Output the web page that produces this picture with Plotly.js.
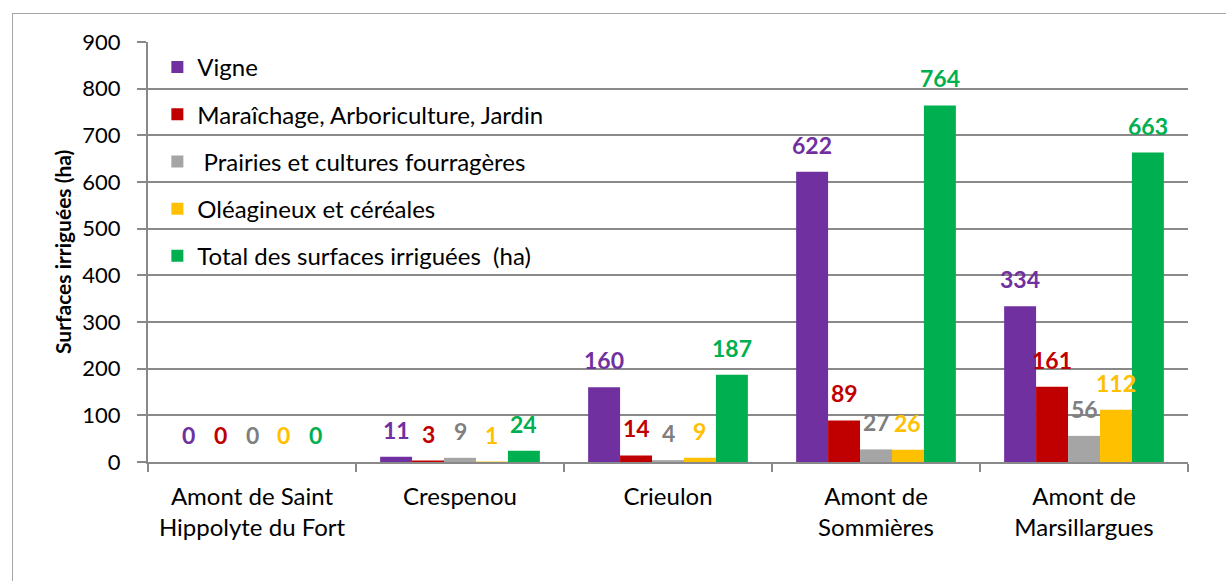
<!DOCTYPE html>
<html><head><meta charset="utf-8">
<script src="https://cdn.plot.ly/plotly-3.0.1.min.js"></script>
<style>
html,body{margin:0;padding:0;background:#fff;overflow:hidden;}
#chart{position:absolute;left:0;top:0;width:1226px;height:581px;}
#frame{position:absolute;left:12px;top:13px;width:1400px;height:800px;border:1.5px solid #a6a6a6;box-sizing:border-box;pointer-events:none;}
</style></head><body>
<div id="chart"></div>
<div id="frame"></div>
<script>
const categories = ["Amont de Saint<br>Hippolyte du Fort", "Crespenou", "Crieulon", "Amont de<br>Sommières", "Amont de<br>Marsillargues"];
const seriesNames = ["Vigne", "Maraîchage, Arboriculture, Jardin", " Prairies et cultures fourragères", "Oléagineux et céréales", "Total des surfaces irriguées  (ha)"];
const vigne = [0, 11, 160, 622, 334];
const maraichage = [0, 3, 14, 89, 161];
const prairies = [0, 9, 4, 27, 56];
const oleagineux = [0, 1, 9, 26, 112];
const total = [0, 24, 187, 764, 663];
const yTitle = "Surfaces irriguées (ha)";
const barColors = ["#7030A0", "#C00000", "#A5A5A5", "#FFC000", "#00B050"];
const labelColors = ["#7030A0", "#C00000", "#7F7F7F", "#FFC000", "#00B050"];

const series = [vigne, maraichage, prairies, oleagineux, total];
const FONT = "Lato, 'Open Sans', sans-serif";
const bargap = 0.232;
const n = series.length;
const w = (1 - bargap) / n;

const traces = series.map((vals, k) => ({
  type: "bar",
  name: seriesNames[k],
  x: categories,
  y: vals,
  marker: {color: barColors[k]},
  legendgroup: "g" + k,
  hoverinfo: "y"
}));

const annotations = [];
series.forEach((vals, k) => {
  vals.forEach((v, i) => {
    annotations.push({
      x: i + (k - (n - 1) / 2) * w,
      xref: "x",
      y: v,
      yref: "y",
      text: String(v),
      showarrow: false,
      yanchor: "middle",
      yshift: 27,
      font: {family: FONT, size: 23, weight: 700, color: labelColors[k]}
    });
  });
});
annotations.push({
  text: yTitle,
  xref: "paper", yref: "paper",
  x: -0.0827, y: 0.5,
  xanchor: "center", yanchor: "middle",
  textangle: -90,
  showarrow: false,
  font: {family: FONT, size: 21, weight: 700, color: "#000"}
});

const grid = "#898989";
const layout = {
  width: 1226,
  height: 581,
  margin: {l: 148, r: 38, t: 42, b: 119},
  paper_bgcolor: "rgba(0,0,0,0)",
  plot_bgcolor: "rgba(0,0,0,0)",
  font: {family: FONT, color: "#000"},
  barmode: "group",
  bargap: bargap,
  bargroupgap: 0,
  showlegend: true,
  legend: {
    x: 0.009, y: 0.993, xanchor: "left", yanchor: "top",
    bgcolor: "rgba(0,0,0,0)",
    font: {family: FONT, size: 24, color: "#000"},
    traceorder: "grouped",
    tracegroupgap: 13
  },
  xaxis: {
    type: "category",
    tickson: "boundaries",
    ticks: "outside",
    ticklen: 8,
    tickwidth: 2,
    tickcolor: grid,
    showline: true,
    linecolor: grid,
    linewidth: 2,
    showgrid: false,
    ticklabelstandoff: 12,
    tickfont: {family: FONT, size: 24, color: "#000"},
    automargin: false
  },
  yaxis: {
    range: [0, 900],
    dtick: 100,
    showgrid: true,
    gridcolor: grid,
    gridwidth: 2,
    zeroline: false,
    showline: true,
    linecolor: grid,
    linewidth: 2,
    ticks: "outside",
    ticklen: 9,
    tickwidth: 2,
    tickcolor: grid,
    ticklabelstandoff: 12,
    tickfont: {family: FONT, size: 22, color: "#000"},
    automargin: false
  },
  annotations: annotations
};

Plotly.newPlot("chart", traces, layout, {displayModeBar: false, staticPlot: true});
</script>
</body></html>
